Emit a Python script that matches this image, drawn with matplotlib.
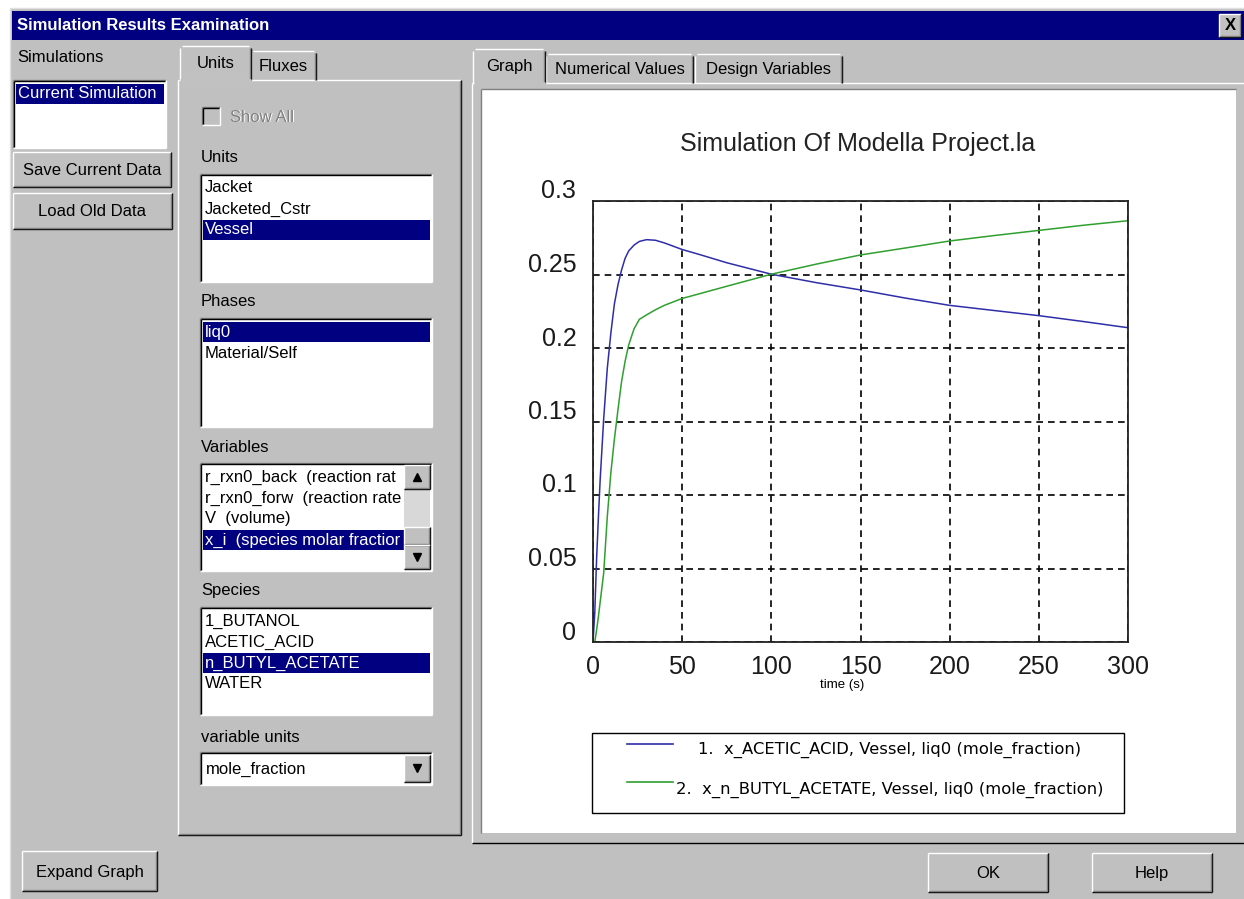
import numpy as np
import matplotlib.pyplot as plt
from matplotlib.patches import Rectangle
from matplotlib.lines import Line2D
import matplotlib.transforms as mtransforms

plt.rcParams['font.family'] = ['Liberation Sans', 'DejaVu Sans']

# ---- data ----
time_s = [0, 1, 2, 3, 4, 6, 8, 10, 12, 14, 16, 18, 20, 23, 26, 30, 35, 40,
          50, 60, 75, 100, 125, 150, 175, 200, 225, 250, 275, 300]
x_acetic = [0.0, 0.02, 0.056, 0.084, 0.110, 0.152, 0.186, 0.210, 0.230, 0.243,
            0.253, 0.261, 0.266, 0.270, 0.2725, 0.2737, 0.2733, 0.2715,
            0.267, 0.2635, 0.258, 0.2502, 0.2445, 0.2395, 0.234, 0.229,
            0.2255, 0.222, 0.218, 0.2138]
x_butyl = [0.0, 0.0, 0.008, 0.017, 0.027, 0.047, 0.085, 0.115, 0.138, 0.158,
           0.177, 0.191, 0.202, 0.213, 0.2195, 0.2225, 0.226, 0.229,
           0.2337, 0.237, 0.242, 0.2502, 0.257, 0.2633, 0.268, 0.2728,
           0.2765, 0.280, 0.2835, 0.2866]
series_labels = ['1.  x_ACETIC_ACID, Vessel, liq0 (mole_fraction)',
                 '2.  x_n_BUTYL_ACETATE, Vessel, liq0 (mole_fraction)']
series_colors = ['#2E2EA8', '#2FA02F']
x_ticks = [0, 50, 100, 150, 200, 250, 300]
y_ticks = [0, 0.05, 0.1, 0.15, 0.2, 0.25, 0.3]
y_ticklabels = ['0', '0.05', '0.1', '0.15', '0.2', '0.25', '0.3']
chart_title = 'Simulation Of Modella Project.la'

# ---- dialog contents ----
unit_items = ['Jacket', 'Jacketed_Cstr', 'Vessel']
phase_items = ['liq0', 'Material/Self']
variable_items = ['r_rxn0_back  (reaction rat', 'r_rxn0_forw  (reaction rate',
                  'V  (volume)', 'x_i  (species molar fractior']
species_items = ['1_BUTANOL', 'ACETIC_ACID', 'n_BUTYL_ACETATE', 'WATER']

GRAY = '#C0C0C0'
NAVY = '#000080'
DARK = '#808080'
W, H = 1244, 899
UIFS = 12

fig = plt.figure(figsize=(W / 100, H / 100), dpi=100, facecolor='white')
ui = fig.add_axes([0, 0, 1, 1])
ui.set_xlim(0, W)
ui.set_ylim(H, 0)
ui.axis('off')


def rect(x0, y0, x1, y1, face, edge='none', lw=0):
    ui.add_patch(Rectangle((x0, y0), x1 - x0, y1 - y0, facecolor=face,
                           edgecolor=edge, linewidth=lw))


def hline(x0, x1, y, c, lw=1.0):
    ui.plot([x0, x1], [y, y], color=c, lw=lw, solid_capstyle='butt')


def vline(x, y0, y1, c, lw=1.0):
    ui.plot([x, x], [y0, y1], color=c, lw=lw, solid_capstyle='butt')


def bevel(x0, y0, x1, y1, raised=True):
    lt, dk = ('white', 'black') if raised else (DARK, 'white')
    hline(x0, x1, y0, lt)
    vline(x0, y0, y1, lt)
    hline(x0, x1, y1, dk)
    vline(x1, y0, y1, dk)
    if raised:
        hline(x0 + 1, x1 - 1, y1 - 1.2, DARK)
        vline(x1 - 1.2, y0 + 1, y1 - 1, DARK)
    else:
        hline(x0 + 1, x1 - 1, y0 + 1.2, 'black')
        vline(x0 + 1.2, y0 + 1, y1 - 1, 'black')


def button(x0, y0, x1, y1, label):
    rect(x0, y0, x1, y1, GRAY)
    bevel(x0, y0, x1, y1, True)
    ui.text((x0 + x1) / 2, (y0 + y1) / 2 + 1, label, ha='center', va='center',
            fontsize=UIFS)


def listbox(x0, y0, x1, y1, items, selected, sel_right=None):
    rect(x0, y0, x1, y1, 'white')
    bevel(x0, y0, x1, y1, False)
    sel_right = sel_right or x1 - 2
    for i, item in enumerate(items):
        yc = y0 + 14 + 21 * i
        col = 'black'
        if i == selected:
            rect(x0 + 3, yc - 10, sel_right, yc + 10, NAVY)
            col = 'white'
        ui.text(x0 + 5, yc, item, ha='left', va='center', fontsize=UIFS,
                color=col)


def tab(x0, y0, x1, y1, label, active):
    rect(x0, y0, x1, y1 + (3 if active else 0), GRAY)
    hline(x0 + 2, x1 - 2, y0, 'white')
    vline(x0, y0 + 2, y1, 'white')
    vline(x1, y0 + 2, y1, 'black')
    vline(x1 - 1.2, y0 + 2, y1, DARK)
    ui.text((x0 + x1) / 2, (y0 + y1) / 2 + 1, label, ha='center', va='center',
            fontsize=UIFS)


# dialog frame and title bar
rect(10, 8, W, H, GRAY)
hline(10, W, 8, '#E0E0E0')
vline(10, 8, H, '#E0E0E0')
rect(12, 11, W, 40, NAVY)
ui.text(17, 25.5, 'Simulation Results Examination', color='white',
        fontweight='bold', fontsize=UIFS, va='center', ha='left')
button(1219, 14, 1241, 37, '')
ui.text(1230, 26, 'X', ha='center', va='center', fontsize=12,
        fontweight='bold')

# left column
ui.text(17, 58, 'Simulations', ha='left', va='center', fontsize=UIFS)
listbox(13, 80, 166, 148, ['Current Simulation'], 0)
button(13, 152, 171, 187, 'Save Current Data')
button(13, 193, 172, 229, 'Load Old Data')
button(22, 851, 157, 891, 'Expand Graph')

# middle tab panel
rect(178, 80, 461, 835, GRAY)
bevel(178, 80, 461, 835, True)
tab(251, 51, 316, 80, 'Fluxes', False)
tab(180, 46, 251, 80, 'Units', True)
hline(180, 251, 80, GRAY, lw=2)

rect(202, 107, 220, 125, GRAY)
bevel(202, 107, 220, 125, False)
ui.text(231, 118, 'Show All', ha='left', va='center', fontsize=UIFS,
        color='white')
ui.text(230, 117, 'Show All', ha='left', va='center', fontsize=UIFS,
        color=DARK)

ui.text(201, 158, 'Units', ha='left', va='center', fontsize=UIFS)
listbox(200, 174, 432, 282, unit_items, 2)
ui.text(201, 302, 'Phases', ha='left', va='center', fontsize=UIFS)
listbox(200, 318, 432, 427, phase_items, 0)
ui.text(201, 447, 'Variables', ha='left', va='center', fontsize=UIFS)
listbox(200, 463, 432, 571, variable_items, 3, sel_right=404)
# scroll bar
rect(404, 465, 430, 569, '#D8D8D8')
button(404, 465, 430, 489, '')
ui.plot([417], [477], marker='^', color='black', ms=6)
button(404, 527, 430, 545, '')
button(404, 545, 430, 569, '')
ui.plot([417], [557], marker='v', color='black', ms=6)
ui.text(201, 591, 'Species', ha='left', va='center', fontsize=UIFS)
listbox(200, 607, 432, 715, species_items, 2)
ui.text(201, 737, 'variable units', ha='left', va='center', fontsize=UIFS)
rect(200, 752, 432, 785, 'white')
bevel(200, 752, 432, 785, False)
ui.text(206, 769, 'mole_fraction', ha='left', va='center', fontsize=UIFS)
button(404, 755, 430, 782, '')
ui.plot([417], [768], marker='v', color='black', ms=6)

# right tab panel
rect(472, 83, W, 843, GRAY)
hline(472, W, 83, 'white')
vline(472, 83, 843, 'white')
hline(472, W, 843, 'black')
tab(546, 54, 693, 83, 'Numerical Values', False)
tab(695, 54, 842, 83, 'Design Variables', False)
tab(473, 49, 545, 83, 'Graph', True)
hline(474, 545, 83, GRAY, lw=2)
rect(481, 89, 1236, 833, 'white')
hline(481, 1236, 89, DARK)
vline(481, 89, 833, DARK)

button(928, 853, 1048, 892, 'OK')
button(1092, 853, 1212, 892, 'Help')

# ---- the graph ----
ax_l, ax_r, ax_t, ax_b = 593, 1128, 201, 642
ax = fig.add_axes([ax_l / W, 1 - ax_b / H, (ax_r - ax_l) / W, (ax_b - ax_t) / H])
ax.plot(time_s, x_acetic, color=series_colors[0], lw=1.1)
ax.plot(time_s, x_butyl, color=series_colors[1], lw=1.1)
ax.set_xlim(0, 300)
ax.set_ylim(0, 0.3)
ax.set_xticks(x_ticks)
ax.set_yticks(y_ticks)
ax.set_yticklabels(y_ticklabels)
ax.tick_params(length=0, labelsize=18, colors='#1A1A1A')
ax.tick_params(axis='y', pad=12)
ax.tick_params(axis='x', pad=9)
shift = mtransforms.ScaledTranslation(0, 0.12, fig.dpi_scale_trans)
for lab in ax.get_yticklabels():
    lab.set_transform(lab.get_transform() + shift)
ax.grid(True, color='black', linestyle=(0, (4, 3)), lw=1.2)
for sp in ax.spines.values():
    sp.set_linewidth(1.3)
    sp.set_color('#222222')
ui.text(842, 685, 'time (s)', ha='center', va='center', fontsize=9.5)
ui.text(858, 144, chart_title, ha='center', va='center', fontsize=18,
        color='#222222')

# legend box
rect(592, 733, 1124, 813, 'white', edge='black', lw=1)
for i, (lab, col) in enumerate(zip(series_labels, series_colors)):
    yl = 744 + 38 * i
    ui.add_line(Line2D([627, 673], [yl, yl], color=col, lw=1.2))
    ui.text(890, yl + 6 + 2 * i, lab, ha='center', va='center', fontsize=11.8,
            family=['DejaVu Sans'])

fig.savefig('out.png', dpi=100, facecolor='white')
